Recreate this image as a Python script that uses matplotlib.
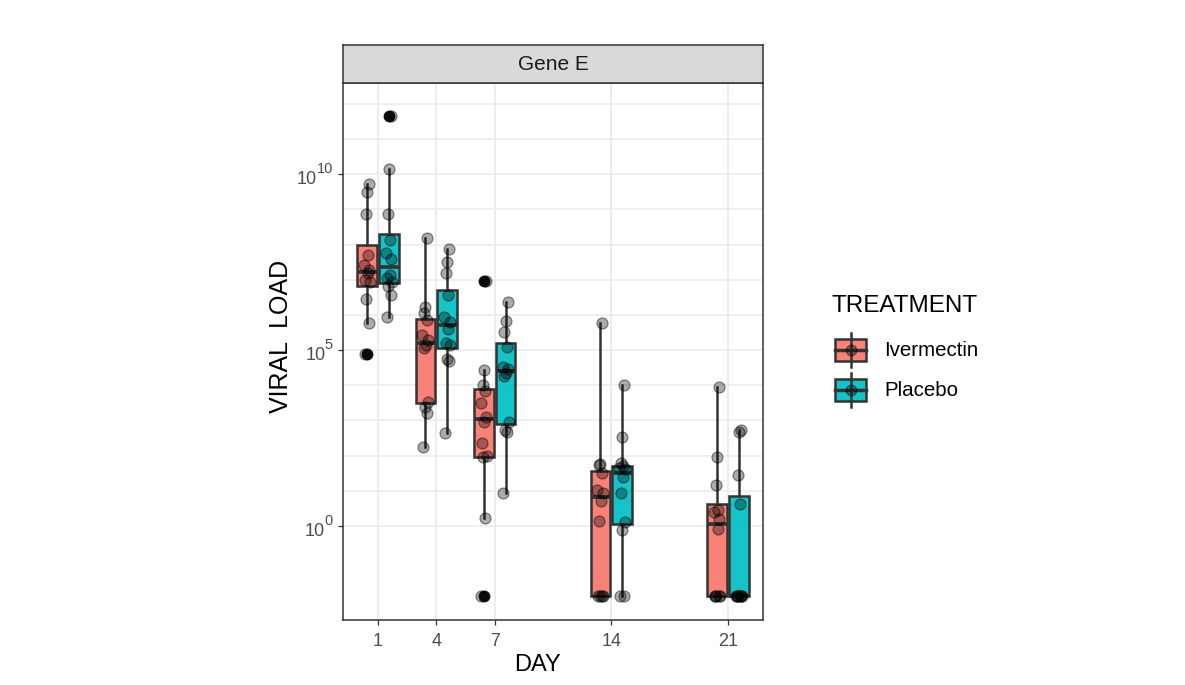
import matplotlib
matplotlib.use('Agg')
import matplotlib.pyplot as plt
from matplotlib.patches import Rectangle
from matplotlib.lines import Line2D
from matplotlib.colors import to_rgba

plt.rcParams['font.family'] = ['Liberation Sans', 'DejaVu Sans']

# ---------------- data (log10 viral load; zero loads shown at 10^-2) ----------------
days = [1, 4, 7, 14, 21]
day_slots = [1, 2, 3, 5, 7]          # x slot used for each day on the axis
treatments = ['Ivermectin', 'Placebo']
colors = ['#F8766D', '#00BFC4']
facet_title = 'Gene E'

ivermectin_log10 = {
    1: [4.90, 5.76, 6.45, 6.94, 7.00, 7.18, 7.28, 7.41, 7.70, 8.86, 9.50, 9.72],
    4: [2.25, 3.20, 3.39, 3.53, 5.05, 5.15, 5.28, 5.43, 5.85, 6.04, 6.23, 8.19],
    7: [-2.00, 0.22, 1.95, 1.98, 2.37, 2.95, 3.11, 3.50, 3.85, 4.00, 4.43, 6.95],
    14: [-2.00, -2.00, -2.00, -2.00, 0.15, 0.70, 0.95, 1.02, 1.50, 1.73, 1.76, 5.78],
    21: [-2.00, -2.00, -2.00, -2.00, -2.00, -0.09, 0.20, 0.39, 0.45, 1.18, 1.97, 3.96],
}
placebo_log10 = {
    1: [5.95, 6.56, 6.82, 6.94, 7.04, 7.13, 7.60, 7.75, 8.13, 8.86, 10.16, 11.65],
    4: [2.63, 4.69, 4.76, 5.15, 5.19, 5.60, 5.80, 5.95, 6.56, 7.18, 7.51, 7.87],
    7: [0.93, 2.68, 2.73, 2.96, 4.25, 4.35, 4.45, 4.53, 5.08, 5.52, 5.83, 6.37],
    14: [-2.00, -2.00, -0.11, 0.12, 0.95, 1.40, 1.61, 1.65, 1.70, 1.78, 2.54, 4.01],
    21: [-2.00, -2.00, -2.00, -2.00, -2.00, -2.00, -2.00, -2.00, 0.64, 1.45, 2.66, 2.73],
}
series = [ivermectin_log10, placebo_log10]

y_major = [0, 5, 10]
y_base_label = '10'
y_exponents = ['0', '5', '10']

# ---------------- figure ----------------
W, H = 1185, 685
fig = plt.figure(figsize=(W / 100, H / 100), dpi=100)
fig.patch.set_facecolor('white')

def fx(x):
    return x / W

def fy(y):
    return 1 - y / H

ax = fig.add_axes([fx(343), fy(620), (763 - 343) / W, (620 - 83) / H])
strip = fig.add_axes([fx(343), fy(83), (763 - 343) / W, (83 - 45) / H])

ax.set_xlim(0.4, 7.6)
ax.set_ylim(-2.67, 12.59)

# grid
for v in range(0, 13):
    ax.axhline(v, color='#EBEBEB', lw=1.1, zorder=0)
for s in day_slots:
    ax.axvline(s, color='#EBEBEB', lw=1.3, zorder=0)

edge = '#333333'
offsets = [-0.1875, 0.1875]
box_w = 0.3375
jitter = [-0.04, 0.03, -0.01, 0.05, -0.03, 0.01, 0.04, -0.05, 0.02, -0.02, 0.0, 0.035]

for ti, (data, col) in enumerate(zip(series, colors)):
    vals = [data[d] for d in days]
    pos = [s + offsets[ti] for s in day_slots]
    bp = ax.boxplot(vals, positions=pos, widths=box_w, patch_artist=True,
                    showcaps=False, whis=1.5, manage_ticks=False,
                    boxprops=dict(facecolor=col, edgecolor=edge, linewidth=1.8),
                    whiskerprops=dict(color=edge, linewidth=1.8),
                    medianprops=dict(color=edge, linewidth=2.7, solid_capstyle='butt'),
                    flierprops=dict(marker='o', markerfacecolor='#111111',
                                    markeredgecolor='#111111', markersize=7.5))
    for b in bp['boxes']:
        b.set_facecolor(to_rgba(col, 0.92))
        b.set_edgecolor(edge)
        b.set_zorder(2)
    for p, v in zip(pos, vals):
        xs = [p + jitter[i % len(jitter)] for i in range(len(v))]
        ax.scatter(xs, v, s=62, facecolor=(0, 0, 0, 0.33), edgecolor=(0, 0, 0, 0.45),
                   linewidth=0.9, zorder=4)

ax.set_xticks(day_slots)
ax.set_xticklabels([str(d) for d in days])
ax.set_yticks(y_major)
ax.set_yticklabels([])
ax.tick_params(axis='both', colors='#333333', length=3.5, width=0.9,
               labelcolor='#4D4D4D', labelsize=13)
ax.tick_params(axis='x', pad=6)
for sp in ax.spines.values():
    sp.set_color(edge)
    sp.set_linewidth(1.1)

# y tick labels as 10 with raised exponent
fig.canvas.draw()
renderer = fig.canvas.get_renderer()
for v, ex in zip(y_major, y_exponents):
    ypix = ax.transData.transform((0, v))[1]          # display coords (from bottom)
    sup = fig.text(fx(333), (ypix + 5) / H, ex, fontsize=10.5, color='#4D4D4D',
                   ha='right', va='center')
    bb = sup.get_window_extent(renderer=renderer)
    fig.text((bb.x0 + 0.5) / W, (ypix - 5) / H, y_base_label, fontsize=13,
             color='#4D4D4D', ha='right', va='center')

fig.text(fx(537), fy(665), 'DAY', fontsize=17, ha='center', va='center', color='black')
fig.text(fx(281), fy(336), 'VIRAL  LOAD', fontsize=18, ha='center', va='center',
         rotation=90, color='black')

# strip
strip.set_xlim(0, 1)
strip.set_ylim(0, 1)
strip.set_facecolor('#D9D9D9')
strip.set_xticks([])
strip.set_yticks([])
for sp in strip.spines.values():
    sp.set_color(edge)
    sp.set_linewidth(1.1)
strip.text(0.5, 0.5, facet_title, ha='center', va='center', fontsize=15, color='#1A1A1A')

# legend
fig.text(fx(832), fy(306), 'TREATMENT', fontsize=17.5, ha='left', va='center', color='black')
for i, (name, col) in enumerate(zip(treatments, colors)):
    cy = 350 + 40 * i
    fig.add_artist(Line2D([fx(851), fx(851)], [fy(cy - 17), fy(cy + 17)],
                          transform=fig.transFigure, color=edge, lw=1.8))
    fig.add_artist(Rectangle((fx(835), fy(cy + 11)), 31 / W, 22 / H,
                             transform=fig.transFigure, facecolor=to_rgba(col, 0.92),
                             edgecolor=edge, lw=1.8))
    fig.add_artist(Line2D([fx(835), fx(866)], [fy(cy), fy(cy)],
                          transform=fig.transFigure, color=edge, lw=2.5))
    fig.add_artist(Line2D([fx(851)], [fy(cy)], transform=fig.transFigure,
                          marker='o', markersize=7.5, linestyle='none',
                          markerfacecolor=(0, 0, 0, 0.33), markeredgecolor=(0, 0, 0, 0.45)))
    fig.text(fx(884), fy(cy), name, fontsize=14.8, ha='left', va='center', color='black')

fig.savefig('out.png', dpi=100, facecolor='white')
